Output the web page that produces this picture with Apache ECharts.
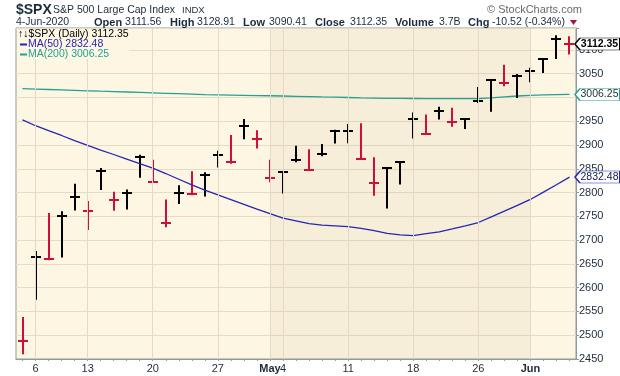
<!DOCTYPE html>
<html>
<head>
<meta charset="utf-8">
<script src="https://cdn.jsdelivr.net/npm/echarts@6/dist/echarts.min.js"></script>
<style>
html, body { margin: 0; padding: 0; background: #fff; }
#chart { width: 620px; height: 376px; }
</style>
</head>
<body>
<div id="chart"></div>
<script>
// daily $SPX, 3-Apr-2020 .. 4-Jun-2020
var dates = ['2020-04-03', '2020-04-06', '2020-04-07', '2020-04-08', '2020-04-09', '2020-04-13', '2020-04-14',
	'2020-04-15', '2020-04-16', '2020-04-17', '2020-04-20', '2020-04-21', '2020-04-22', '2020-04-23', '2020-04-24',
	'2020-04-27', '2020-04-28', '2020-04-29', '2020-04-30', '2020-05-01', '2020-05-04', '2020-05-05', '2020-05-06',
	'2020-05-07', '2020-05-08', '2020-05-11', '2020-05-12', '2020-05-13', '2020-05-14', '2020-05-15', '2020-05-18',
	'2020-05-19', '2020-05-20', '2020-05-21', '2020-05-22', '2020-05-26', '2020-05-27', '2020-05-28', '2020-05-29',
	'2020-06-01', '2020-06-02', '2020-06-03', '2020-06-04'];
var highs = [2538.18, 2676.85, 2756.89, 2760.75, 2818.57, 2782.46, 2851.85, 2801.88, 2806.51, 2879.22, 2868.98,
	2785.54, 2815.10, 2844.90, 2842.71, 2887.72, 2921.15, 2954.86, 2930.91, 2869.09, 2844.24, 2898.23, 2891.11,
	2901.92, 2932.16, 2944.25, 2945.82, 2874.14, 2852.80, 2865.01, 2968.09, 2964.21, 2980.29, 2978.50, 2956.76,
	3021.72, 3036.25, 3068.67, 3049.17, 3062.18, 3081.07, 3130.94, 3128.91];
var lows = [2459.96, 2574.57, 2657.67, 2663.30, 2762.36, 2721.17, 2805.10, 2761.54, 2764.32, 2830.88, 2820.43,
	2727.10, 2775.95, 2794.26, 2791.76, 2852.89, 2860.71, 2912.16, 2892.47, 2821.61, 2797.85, 2863.55, 2847.65,
	2876.48, 2902.88, 2903.44, 2869.59, 2793.15, 2766.64, 2816.78, 2913.86, 2922.35, 2953.63, 2938.57, 2933.59,
	2988.17, 2969.75, 3023.40, 2998.61, 3031.71, 3051.64, 3080.96, 3090.41];
var closes = [2488.65, 2663.68, 2659.41, 2749.98, 2789.82, 2761.63, 2846.06, 2783.36, 2799.55, 2874.56, 2823.16,
	2736.56, 2799.31, 2797.80, 2836.74, 2878.48, 2863.39, 2939.51, 2912.43, 2830.71, 2842.74, 2868.44, 2848.42,
	2881.19, 2929.80, 2930.32, 2870.12, 2820.00, 2852.50, 2863.70, 2953.91, 2922.94, 2971.61, 2948.51, 2955.45,
	2991.77, 3036.13, 3029.73, 3044.31, 3055.73, 3080.82, 3122.87, 3112.35];
var prevClose = 2526.90; // close of 2-Apr, colours the first bar

var ma50 = [2953, 2940.5, 2930, 2920, 2909, 2899, 2889, 2880, 2870.5, 2861, 2851.5, 2840, 2828, 2816, 2805,
	2795, 2785, 2775, 2765, 2755.5, 2746, 2740.5, 2734.5, 2731.5, 2730, 2728.5, 2724.5, 2720, 2714, 2711,
	2709.5, 2713.5, 2717.5, 2723.5, 2730, 2737, 2749, 2761, 2773, 2785.5, 2801, 2816.5, 2832.48];
var ma200 = [3018.5, 3017.6, 3016.7, 3015.8, 3014.9, 3014, 3013.1, 3012.3, 3011.4, 3010.5, 3009.6, 3008.7, 3007.8,
	3006.9, 3006, 3005.5, 3005, 3004.5, 3004, 3003.5, 3003, 3002.4, 3001.8, 3001.1, 3000.5, 2999.9, 2999.2,
	2998.6, 2998, 2997.9, 2997.8, 2997.7, 2997.6, 2997.5, 2997.5, 2997.6, 2999, 3001, 3003, 3004.5, 3005.3,
	3005.9, 3006.25];

// x labels / vertical grid lines
var tickDates = ['2020-04-06', '2020-04-13', '2020-04-20', '2020-04-27', '2020-05-01', '2020-05-04',
	'2020-05-11', '2020-05-18', '2020-05-26', '2020-06-01'];
var tickTexts = ['6', '13', '20', '27', '{b|May}', '4', '11', '18', '26', '{b|Jun}'];
var shadeMonth = ['2020-05-01', '2020-06-01'];

var yMin = 2450, yMax = 3146, yStep = 50;

var FONT = 'Liberation Sans, Arial, sans-serif';
var INK = '#1c2b3a';
var UP = '#000000';
var DOWN = '#d00f38';
var MA50C = '#2626b4';
var MA200C = '#25a192';

var dom = document.getElementById('chart');
var myChart = echarts.init(dom);

var barData = dates.map(function(d, i) {
	var prev = i === 0 ? prevClose : closes[i - 1];
	return [i, highs[i], lows[i], closes[i], closes[i] >= prev ? 1 : 0];
});

var tickMap = {};
tickDates.forEach(function(d, i) { tickMap[d] = tickTexts[i]; });

function txt(x, y, s, size, color, bold) {
	return {
		type: 'text', x: x, y: y, silent: true, z: 100,
		style: {
			text: s, fill: color, font: (bold ? 'bold ' : '') + size + 'px ' + FONT,
			verticalAlign: 'middle', textVerticalAlign: 'middle'
		}
	};
}

var tagPath = 'path://M0,6L5,0L45,0L45,12L5,12Z';
function tag(value, border, color, bold) {
	return {
		coord: [dates.length - 1, value],
		symbol: tagPath,
		symbolSize: [45, 12],
		symbolOffset: [28, 0],
		itemStyle: { color: '#ffffff', borderColor: border, borderWidth: 1 },
		label: {
			show: true, position: 'inside', offset: [2, 0],
			formatter: value.toFixed(2), color: color,
			fontFamily: FONT, fontSize: 10.5, fontWeight: bold ? 'bold' : 'normal'
		}
	};
}

var option = {
	animation: false,
	backgroundColor: '#ffffff',
	grid: {
		left: 16, right: 44, top: 28, bottom: 17,
		show: true, backgroundColor: '#fdf6e3', borderColor: '#8e9c9c', borderWidth: 1
	},
	xAxis: {
		type: 'category',
		data: dates,
		boundaryGap: true,
		axisLine: { lineStyle: { color: '#8e9c9c' } },
		axisTick: { show: true, interval: 0, alignWithLabel: true, length: 2, lineStyle: { color: '#8e9c9c' } },
		axisLabel: {
			interval: function(idx, val) { return tickMap[val] !== undefined; },
			formatter: function(val) { return tickMap[val] || ''; },
			margin: 4,
			fontFamily: FONT, fontSize: 11, color: INK,
			rich: { b: { fontFamily: FONT, fontSize: 11, fontWeight: 'bold', color: INK } }
		},
		splitLine: { show: false }
	},
	yAxis: {
		type: 'value',
		position: 'right',
		min: yMin, max: yMax, interval: yStep,
		axisLine: { show: true, lineStyle: { color: '#8e9c9c' } },
		axisTick: { show: true, length: 3, lineStyle: { color: '#8e9c9c' } },
		axisLabel: {
			margin: 3, fontFamily: FONT, fontSize: 11, color: INK,
			formatter: function(v) { return v % yStep === 0 ? String(v) : ''; }
		},
		splitLine: { show: true, lineStyle: { color: '#e6dcc8', width: 1 } }
	},
	graphic: [
		txt(16, 10, '$SPX', 14, INK, true),
		txt(53, 10, 'S&P 500 Large Cap Index', 10.5, INK, false),
		txt(182, 10.5, 'INDX', 9.5, INK, false),
		txt(487, 10, '\u00a9 StockCharts.com', 11, '#6a6a6a', false),
		txt(16, 22.5, '4-Jun-2020', 10.5, INK, false),
		txt(94, 22.5, 'Open', 11, INK, true),
		txt(125, 22.5, '3111.56', 10.5, INK, false),
		txt(170, 22.5, 'High', 11, INK, true),
		txt(197, 22.5, '3128.91', 10.5, INK, false),
		txt(243, 22.5, 'Low', 11, INK, true),
		txt(269, 22.5, '3090.41', 10.5, INK, false),
		txt(315, 22.5, 'Close', 11, INK, true),
		txt(350, 22.5, '3112.35', 10.5, INK, false),
		txt(395, 22.5, 'Volume', 11, INK, true),
		txt(439, 22.5, '3.7B', 10.5, INK, false),
		txt(468, 22.5, 'Chg', 11, INK, true),
		txt(492, 22.5, '-10.52 (-0.34%)', 10.5, INK, false),
		{ type: 'polygon', silent: true, shape: { points: [[570, 20], [577, 20], [573.5, 25]] }, style: { fill: '#b0103a' } },
		// legend box inside the plot
		{ type: 'rect', silent: true, z: 99, shape: { x: 17, y: 29, width: 112, height: 30 }, style: { fill: '#fdf6e3' } },
		txt(18, 34.5, '\u2191\u2193$SPX (Daily) 3112.35', 10.5, '#000000', false),
		{ type: 'rect', silent: true, z: 100, shape: { x: 20, y: 43.5, width: 7, height: 2 }, style: { fill: MA50C } },
		txt(28, 44.5, 'MA(50) 2832.48', 10.5, MA50C, false),
		{ type: 'rect', silent: true, z: 100, shape: { x: 20, y: 53.5, width: 7, height: 2 }, style: { fill: MA200C } },
		txt(28, 54.5, 'MA(200) 3006.25', 10.5, MA200C, false)
	],
	series: [{
			name: 'MA(200)',
			type: 'line',
			z: 1,
			data: ma200,
			symbol: 'none',
			lineStyle: { color: MA200C, width: 1.3 },
			markArea: {
				silent: true,
				itemStyle: { color: 'rgba(90,60,0,0.04)' },
				data: [[{ xAxis: shadeMonth[0] }, { xAxis: shadeMonth[1] }]]
			},
			markLine: {
				silent: true,
				symbol: 'none',
				label: { show: false },
				lineStyle: { color: '#e3d9c5', type: 'solid', width: 1 },
				data: tickDates.map(function(d) { return { xAxis: d }; })
			}
		},
		{
			name: '$SPX',
			type: 'custom',
			z: 3,
			data: barData,
			encode: { x: 0, y: [1, 2, 3] },
			renderItem: function(params, api) {
				var i = api.value(0);
				var hi = api.coord([i, api.value(1)]);
				var lo = api.coord([i, api.value(2)]);
				var cl = api.coord([i, api.value(3)]);
				var c = api.value(4) ? UP : DOWN;
				var x = Math.round(hi[0]);
				var yc = Math.round(cl[1]);
				return {
					type: 'group',
					children: [{
						type: 'line',
						shape: { x1: x, y1: hi[1], x2: x, y2: lo[1] },
						style: { stroke: c, lineWidth: 2 }
					}, {
						type: 'line',
						shape: { x1: x - 5, y1: yc, x2: x + 5, y2: yc },
						style: { stroke: c, lineWidth: 2 }
					}]
				};
			}
		},
		{
			name: 'MA(50)',
			type: 'line',
			z: 4,
			data: ma50,
			symbol: 'none',
			lineStyle: { color: MA50C, width: 1.3 },
			markPoint: {
				silent: true,
				data: [
					tag(closes[closes.length - 1], '#000000', '#000000', true),
					tag(ma200[ma200.length - 1], MA200C, '#1a3030', false),
					tag(ma50[ma50.length - 1], MA50C, '#101a48', false)
				]
			}
		}
	]
};
myChart.setOption(option, true);
</script>
</body>
</html>
